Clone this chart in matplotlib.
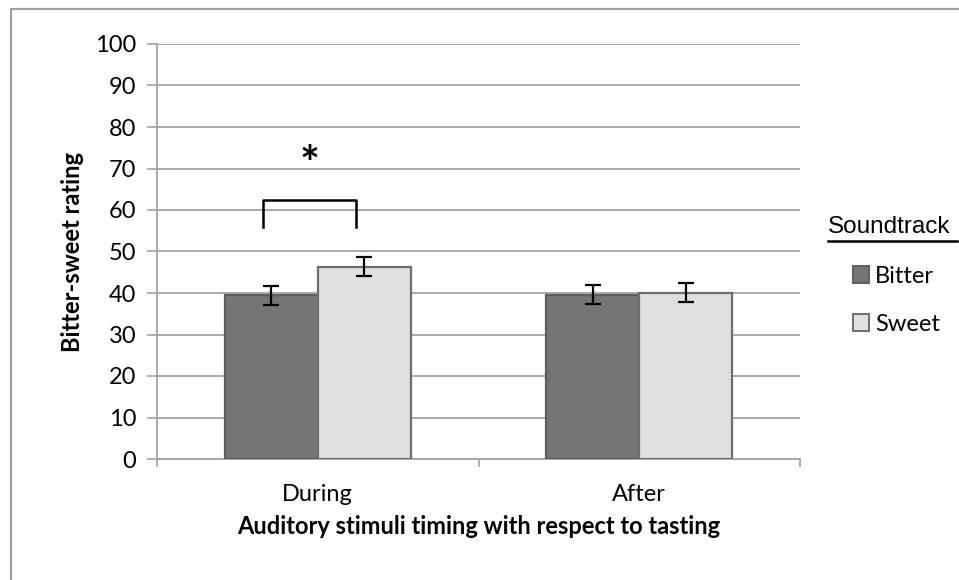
import matplotlib
matplotlib.use("Agg")
import matplotlib.pyplot as plt
from matplotlib.patches import Patch, Rectangle
from matplotlib.lines import Line2D
import numpy as np

plt.rcParams.update({
    "font.family": ["Lato", "DejaVu Sans"],
    "font.size": 17,
})

# Data: mean bitter-sweet rating (+/- SE) per timing and soundtrack
TIMINGS = ["During", "After"]
BITTER = [39.5, 39.6]
SWEET = [46.3, 40.1]
BITTER_ERR = [2.3, 2.3]
SWEET_ERR = [2.3, 2.3]
SOUNDTRACKS = ["Bitter", "Sweet"]
COLORS = ["#757575", "#e0e0e0"]
EDGES = ["#5e5e5e", "#6e6e6e"]
GRID = "#a3a3a3"

fig = plt.figure(figsize=(9.59, 5.80), dpi=100)
ax = fig.add_axes([157 / 959, 1 - 459 / 580, 643 / 959, 415 / 580])

x = np.arange(len(TIMINGS))
width = 0.29
for vals, errs, color, edge, off in [
    (BITTER, BITTER_ERR, COLORS[0], EDGES[0], -width / 2),
    (SWEET, SWEET_ERR, COLORS[1], EDGES[1], width / 2),
]:
    ax.bar(x + off, vals, width, color=color, edgecolor=edge, linewidth=1.6,
           zorder=3)
    ax.errorbar(x + off, vals, yerr=errs, fmt="none", ecolor="black",
                elinewidth=1.6, capsize=5.5, capthick=1.6, zorder=4)

ax.set_xlim(-0.5, 1.5)
ax.set_ylim(0, 100)
ax.set_yticks(np.arange(0, 101, 10))
ax.set_xticks([-0.5, 0.5, 1.5])
ax.set_xticklabels([])
ax.set_xticks(x, minor=True)
ax.set_xticklabels(TIMINGS, minor=True)
ax.tick_params(axis="x", which="minor", length=0, pad=18)
ax.tick_params(axis="x", which="major", length=6, width=1.2, color=GRID)
ax.tick_params(axis="y", length=7, width=1.2, color=GRID, pad=8)
ax.grid(axis="y", color=GRID, linewidth=1.3, zorder=0)
ax.set_axisbelow(True)
for s in ["top", "right"]:
    ax.spines[s].set_visible(False)
for s in ["left", "bottom"]:
    ax.spines[s].set_color(GRID)
    ax.spines[s].set_linewidth(1.3)

ax.set_ylabel("Bitter-sweet rating", fontweight="bold", fontsize=17,
              labelpad=8)
ax.set_xlabel("Auditory stimuli timing with respect to tasting",
              fontweight="bold", fontsize=17, labelpad=7)

# significance bracket and star
bx0, bx1, by0, by1 = -0.17, 0.12, 56, 62.5
ax.plot([bx0, bx0, bx1, bx1], [by0, by1, by1, by0], color="black",
        linewidth=1.8, solid_joinstyle="round", zorder=5)
ax.text((bx0 + bx1) / 2, 70.5, "*", ha="center", va="center", fontsize=34,
        fontweight="bold")

# legend with underlined title
fig.text(828 / 959, 1 - 227 / 580, "Soundtrack", family="Liberation Sans",
         fontsize=17.5, ha="left", va="center")
fig.add_artist(Line2D([828 / 959, 957 / 959], [1 - 241 / 580] * 2,
                      color="black", linewidth=1.8))
handles = [Patch(facecolor=c, edgecolor=e, linewidth=1.4)
           for c, e in zip(COLORS, EDGES)]
fig.legend(handles, SOUNDTRACKS, loc="upper left",
           bbox_to_anchor=(841 / 959, 1 - 254 / 580), frameon=False,
           handlelength=0.7, handleheight=0.7, handletextpad=0.25,
           labelspacing=1.15, fontsize=17, borderpad=0)

# outer chart frame
fig.add_artist(Rectangle((11 / 959, -0.05), 1.0, 1 - 9 / 580 + 0.05,
                         transform=fig.transFigure, fill=False,
                         edgecolor="#a0a0a0", linewidth=1.6))

fig.savefig("out.png", dpi=100)
